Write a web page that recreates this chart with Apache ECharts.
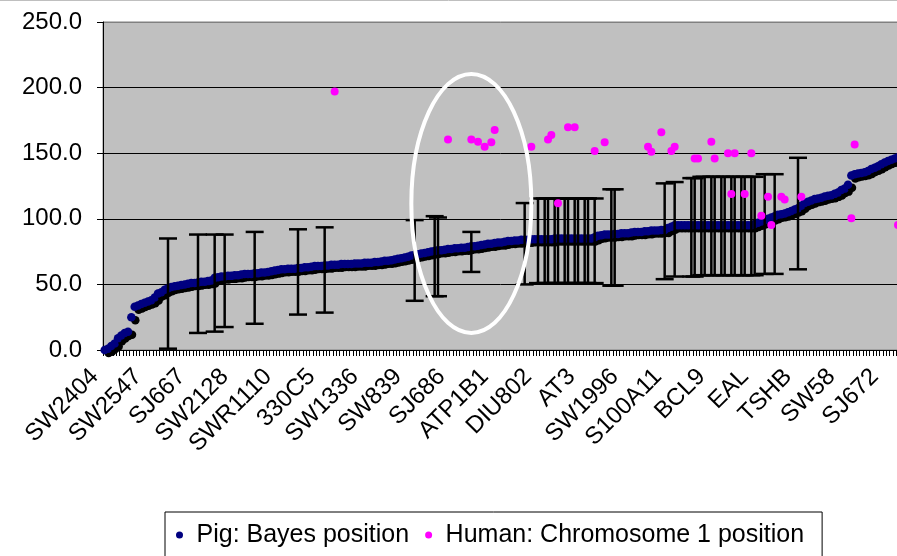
<html>
<head>
    <meta http-equiv="Content-Type" content="text/html; charset=utf-8" />
    <script type="text/javascript" src="https://cdn.jsdelivr.net/npm/echarts@6/dist/echarts.min.js"></script>
    <style>
        body { margin: 0; background: #fff; }
        #main { width: 897px; height: 556px; }
    </style>
    <title></title>
</head>
<body>
    <div id="main"></div>
    <script type="text/javascript">

        // tick labels, one every 13 markers
        var tickLabels = ['SW2404', 'SW2547', 'SJ667', 'SW2128', 'SWR1110', '330C5', 'SW1336', 'SW839',
            'SJ686', 'ATP1B1', 'DIU802', 'AT3', 'SW1996', 'S100A11', 'BCL9', 'EAL', 'TSHB', 'SW58', 'SJ672'];

        // Pig: Bayes position (one per marker, sorted)
        var pigPosition = [
            0, 1, 3, 5, 9, 11, 13, 14, 25, 33,
            34, 35, 36, 37, 38, 40, 43, 44, 46, 47,
            48, 48.5, 49, 49.5, 50, 50.5, 51, 51, 51.5, 52,
            52, 52.5, 53, 55, 55.5, 56, 56, 56.5, 56.5, 57,
            57, 57.5, 58, 58, 58, 58.5, 58.5, 59, 59, 59.5,
            60, 60.5, 61, 61.5, 61.5, 62, 62, 62, 62.5, 62.5,
            63, 63, 63.5, 64, 64, 64, 64.5, 64.5, 65, 65,
            65, 65.5, 65.5, 65.5, 65.5, 66, 66, 66, 66.5, 66.5,
            66.5, 67, 67, 67.5, 68, 68, 68.5, 69, 69.5, 70,
            70.5, 71, 72, 72.5, 73, 73.5, 74, 74.5, 75, 75.5,
            76, 76, 76.5, 77, 77, 77.5, 77.5, 78, 78, 78.5,
            79, 79, 79.5, 80, 80.5, 81, 81, 81.5, 82, 82,
            82.5, 83, 83, 83.5, 83.5, 84, 84, 84, 84.5, 84.5,
            84.5, 84.5, 84.5, 84.5, 84.5, 85, 85, 85, 85, 85,
            85, 85, 85, 85, 85, 85, 85, 86, 87, 87.5,
            88, 88, 88, 88.5, 88.5, 89, 89, 89, 89.5, 90,
            90, 90, 90.5, 90.5, 91, 91, 91, 91.5, 91.5, 93,
            94, 95, 95, 95, 95, 95, 95, 95, 95, 95,
            95, 95, 95, 95, 95, 95, 95, 95, 95, 95,
            95, 95, 95, 95, 95, 96, 97, 98, 99, 100,
            101, 102, 103, 103.5, 104, 105, 106, 107, 108, 110,
            112, 113, 114, 115, 115.5, 116, 117, 117.5, 118, 119,
            120, 122, 123, 126, 133, 134, 134.5, 135, 135.5, 136.5,
            138, 139, 140, 141.5, 143, 144, 145, 146, 147, 148
        ];

        // error bars: [marker index, low, high]
        var pigRange = [
            [19, 1, 85], [28, 13, 88], [33, 14, 88], [36, 17.5, 88], [45, 20, 90],
            [58, 27, 92], [66, 28.5, 93.5], [93, 37.5, 99], [99, 41, 102], [100, 41, 101],
            [110, 59.5, 90], [126, 50, 112],
            [130, 51, 115.5], [132, 51, 115.5], [133, 51, 115.5], [135, 51, 115.5], [136, 51, 115.5],
            [138, 51, 115.5], [139, 51, 115.5], [141, 51, 115.5], [142, 51, 115.5], [144, 51, 115.5],
            [145, 51, 115.5], [147, 51, 115.5],
            [152, 49, 122.5], [153, 49, 122.5], [168, 54, 127], [171, 56, 128],
            [176, 56, 131], [177, 56, 131], [179, 57, 132], [180, 57, 132], [182, 57, 132],
            [183, 57, 132], [185, 57, 132], [186, 57, 132], [188, 57, 132], [189, 57, 132],
            [191, 57, 132], [192, 57, 132], [194, 57, 132], [195, 57, 132],
            [198, 58, 134], [201, 58, 134], [208, 61.5, 146.5]
        ];

        // Human: Chromosome 1 position: [marker index, value]
        var humanPosition = [
            [69, 197], [103, 160.5], [110, 160.5], [112, 158.8], [114, 155], [116, 158.3],
            [117, 167.7], [128, 155], [133, 160.5], [134, 163.9], [136, 111.8], [139, 169.7],
            [141, 169.7], [147, 151.7], [150, 158.3], [163, 155], [164, 151.2], [167, 165.9],
            [170, 151.7], [171, 155], [177, 146], [178, 146], [182, 158.8], [183, 146],
            [187, 149.9], [188, 118.9], [189, 149.9], [192, 118.9], [194, 149.9], [197, 102.4],
            [199, 116.8], [200, 95.3], [203, 116.8], [204, 114.8], [209, 116.8], [224, 100.4],
            [225, 156.7], [238, 95.3]
        ];

        // white ring drawn round the ATP1B1 region (data units)
        var ring = { cat: 110, val: 111.7, catHalf: 18.45, valHalf: 98.7 };

        var categories = pigPosition.map(function (v, i) {
            return i % 13 === 0 ? tickLabels[i / 13] : '';
        });

        var font = "'Liberation Sans', Arial, sans-serif";

        function drawErrorBar(params, api) {
            var lo = api.coord([api.value(0), api.value(1)]);
            var hi = api.coord([api.value(0), api.value(2)]);
            var half = 9;
            var style = { stroke: '#000', lineWidth: 2.5 };
            return {
                type: 'group',
                children: [
                    { type: 'line', shape: { x1: lo[0], y1: lo[1], x2: hi[0], y2: hi[1] }, style: style },
                    { type: 'line', shape: { x1: lo[0] - half, y1: lo[1], x2: lo[0] + half, y2: lo[1] }, style: style },
                    { type: 'line', shape: { x1: hi[0] - half, y1: hi[1], x2: hi[0] + half, y2: hi[1] }, style: style }
                ]
            };
        }

        var option = {
            animation: false,
            backgroundColor: '#fff',
            textStyle: { fontFamily: font },
            grid: {
                left: 103, top: 22, bottom: 206, right: -6,
                show: true, backgroundColor: '#C0C0C0', borderColor: '#808080', borderWidth: 1,
                outerBoundsMode: 'none'
            },
            legend: {
                data: ['Pig: Bayes position', 'Human: Chromosome 1 position'],
                left: 165, top: 512,
                orient: 'horizontal',
                backgroundColor: '#fff',
                borderColor: '#000', borderWidth: 1, borderRadius: 0,
                padding: [10, 18, 10, 11],
                itemWidth: 24, itemHeight: 7, itemGap: 16,
                icon: 'circle',
                itemStyle: { shadowColor: 'transparent', shadowOffsetX: 0, shadowOffsetY: 0 },
                textStyle: { fontFamily: font, fontSize: 25, color: '#000', lineHeight: 26 }
            },
            xAxis: {
                type: 'category',
                data: categories,
                boundaryGap: true,
                axisLine: { show: true, lineStyle: { color: '#000', width: 1 } },
                axisTick: { show: true, interval: 0, length: 6, lineStyle: { color: '#000', width: 1 } },
                axisLabel: {
                    interval: 12, rotate: 45, margin: 13,
                    fontFamily: font, fontSize: 24, color: '#000',
                    formatter: function (v) { return v ? '{t|' + v + '}{g| }' : ''; },
                    rich: {
                        t: { fontFamily: font, fontSize: 24, color: '#000' },
                        g: { fontFamily: font, fontSize: 24, width: 14 }
                    }
                },
                splitLine: { show: false }
            },
            yAxis: {
                type: 'value',
                min: 0, max: 250, interval: 50,
                axisLine: { show: true, lineStyle: { color: '#000', width: 1 } },
                axisTick: { show: true, length: 6, lineStyle: { color: '#000', width: 1 } },
                axisLabel: {
                    margin: 21, fontFamily: font, fontSize: 24, color: '#000',
                    formatter: function (v) { return v.toFixed(1); }
                },
                splitLine: {
                    show: true,
                    lineStyle: { color: ['#000', '#000', '#000', '#000', '#000', '#808080'], width: 1 }
                }
            },
            series: [
                {
                    name: 'Pig: Bayes position',
                    type: 'scatter',
                    data: pigPosition,
                    symbol: 'circle',
                    symbolSize: 8.5,
                    z: 2,
                    itemStyle: {
                        color: '#000080', opacity: 1,
                        shadowColor: '#000', shadowBlur: 0, shadowOffsetX: 4, shadowOffsetY: 3
                    }
                },
                {
                    name: 'range',
                    type: 'custom',
                    data: pigRange,
                    encode: { x: 0, y: [1, 2] },
                    renderItem: drawErrorBar,
                    z: 3
                },
                {
                    name: 'Human: Chromosome 1 position',
                    type: 'scatter',
                    data: humanPosition,
                    symbol: 'circle',
                    symbolSize: 8,
                    z: 4,
                    itemStyle: { color: '#FF00FF', opacity: 1 }
                }
            ]
        };

        var myChart = echarts.init(document.getElementById('main'), null, { renderer: 'canvas' });
        myChart.setOption(option);

        //白色椭圆标注
        var c = myChart.convertToPixel({ gridIndex: 0 }, [ring.cat, ring.val]);
        var e = myChart.convertToPixel({ gridIndex: 0 }, [ring.cat + ring.catHalf, ring.val + ring.valHalf]);
        myChart.setOption({
            graphic: [
                {
                    type: 'line', z: 100,
                    shape: { x1: 0, y1: 0.5, x2: 897, y2: 0.5 },
                    style: { stroke: '#bfbfbf', lineWidth: 1 }
                },
                {
                    type: 'ellipse', z: 100,
                    shape: { cx: c[0], cy: c[1], rx: Math.abs(e[0] - c[0]), ry: Math.abs(e[1] - c[1]) },
                    style: { fill: null, stroke: '#fff', lineWidth: 4 }
                }
            ]
        });

    </script>
</body>
</html>
